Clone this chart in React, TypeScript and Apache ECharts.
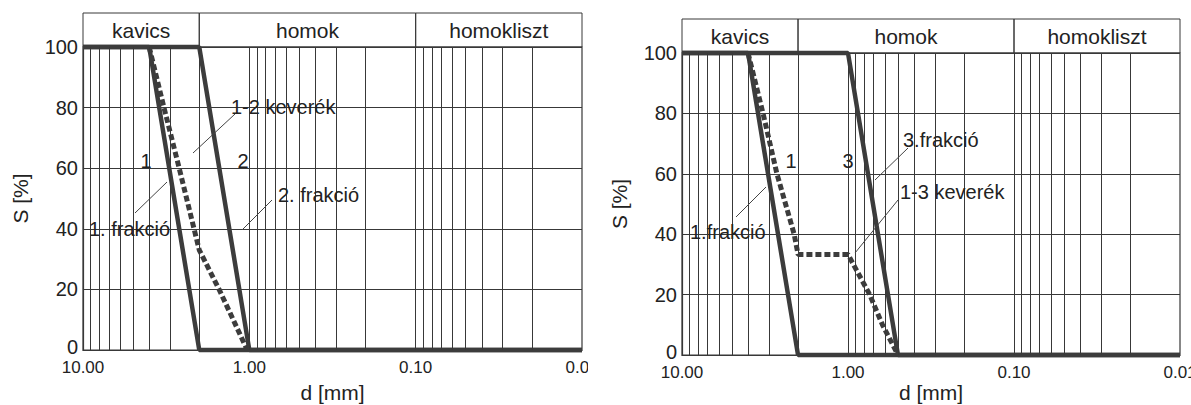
import React, { useEffect, useRef } from "react";
import * as echarts from "echarts";

const FONT = '"Liberation Sans", Arial, Helvetica, sans-serif';
const INK = "#222222";
const CURVE = "#3c3c3c";
const GRID = "#383838";

// axis definitions
const sMin = 0;
const sMax = 100;
const sStep = 20;
const dMin = 0.01;
const dMax = 10;
const gridDecades = [0.01, 0.1, 1];
const gridMantissas = [2, 3, 4, 5, 6, 7, 8, 9, 10];

// soil zones (header)
const zoneBounds = [10, 2, 0.1, 0.01];
const zoneNames = ["kavics", "homok", "homokliszt"];

// fractions (d [mm], S [%])
const frac1D = [10, 4, 2, 0.01];
const frac1S = [100, 100, 0, 0];
const frac2D = [10, 2, 1, 0.01];
const frac2S = [100, 100, 0, 0];
const frac3D = [10, 1, 0.5, 0.01];
const frac3S = [100, 100, 0, 0];

// mixtures
const mix12D = [4, 3.26, 2.64, 2.15, 2.0, 1.52, 1.25, 1.03];
const mix12S = [100, 80, 60, 40, 33, 20, 10, 0];
const mix13D = [4, 3.25, 2.68, 2.11, 2.0, 1.0, 0.74, 0.62, 0.5];
const mix13S = [100, 80, 60, 40, 33.3, 33.3, 20, 10, 0];

const zip = (d: number[], s: number[]) => d.map((v, i) => [v, s[i]]);

type Note = { text: string; x: number; y: number; align?: string };
type Leader = number[];

const leftNotes: Note[] = [
  { text: "1-2 keverék", x: 231, y: 107 },
  { text: "1", x: 146, y: 161, align: "center" },
  { text: "2", x: 243, y: 161, align: "center" },
  { text: "2. frakció", x: 278, y: 195 },
  { text: "1. frakció", x: 89, y: 229 },
];
const leftLeaders: Leader[] = [
  [193, 153, 235, 114],
  [242, 230, 272, 200],
  [135, 213, 167, 182],
];
const rightNotes: Note[] = [
  { text: "3.frakció", x: 303, y: 140 },
  { text: "3", x: 248, y: 161, align: "center" },
  { text: "1", x: 191, y: 161, align: "center" },
  { text: "1-3 keverék", x: 300, y: 192 },
  { text: "1.frakció", x: 90, y: 232 },
];
const rightLeaders: Leader[] = [
  [275, 180, 308, 148],
  [255, 253, 298, 200],
  [136, 217, 166, 187],
];

type Curve = { d: number[]; s: number[]; dashed?: boolean };

function makeOption(cfg: {
  gridLeft: number;
  gridTop: number;
  gridW: number;
  gridH: number;
  headTop: number;
  xNameGap: number;
  curves: Curve[];
  notes: Note[];
  leaders: Leader[];
}) {
  const gridValues: number[] = [];
  gridDecades.forEach((dec) =>
    gridMantissas.forEach((m) => {
      const v = +(dec * m).toPrecision(6);
      if (v > dMin && v < dMax) gridValues.push(v);
    })
  );

  const xBase = {
    type: "log",
    logBase: 10,
    min: dMin,
    max: dMax,
    inverse: true,
  };

  const series: any[] = [
    {
      type: "line",
      xAxisIndex: 0,
      yAxisIndex: 0,
      data: [],
      silent: true,
      markLine: {
        silent: true,
        symbol: ["none", "none"],
        label: { show: false },
        lineStyle: { color: GRID, width: 1, type: "solid" },
        data: gridValues.map((v) => ({ xAxis: v })),
      },
    },
    {
      type: "line",
      xAxisIndex: 1,
      yAxisIndex: 1,
      data: [],
      silent: true,
      markArea: {
        silent: true,
        itemStyle: {
          color: "rgba(255,255,255,0)",
          borderColor: GRID,
          borderWidth: 1,
        },
        label: {
          show: true,
          position: "inside",
          fontSize: 21,
          fontFamily: FONT,
          color: INK,
        },
        data: zoneNames.map((name, i) => [
          { name, xAxis: zoneBounds[i] },
          { xAxis: zoneBounds[i + 1] },
        ]),
      },
    },
  ];

  cfg.curves.forEach((c) => {
    series.push({
      type: "line",
      xAxisIndex: 0,
      yAxisIndex: 0,
      data: zip(c.d, c.s),
      showSymbol: false,
      symbol: "none",
      clip: false,
      silent: true,
      z: c.dashed ? 4 : 3,
      lineStyle: {
        color: CURVE,
        width: c.dashed ? 5 : 4.5,
        type: c.dashed ? [6, 3] : "solid",
      },
    });
  });

  const graphic: any[] = [];
  cfg.leaders.forEach((l) =>
    graphic.push({
      type: "line",
      shape: { x1: l[0], y1: l[1], x2: l[2], y2: l[3] },
      style: { stroke: "#444", lineWidth: 1 },
      z: 10,
    })
  );
  cfg.notes.forEach((n) =>
    graphic.push({
      type: "text",
      x: n.x,
      y: n.y,
      z: 11,
      style: {
        text: n.text,
        fill: INK,
        font: `20px ${FONT}`,
        align: n.align || "left",
        verticalAlign: "middle",
      },
    })
  );

  return {
    animation: false,
    backgroundColor: "#ffffff",
    grid: [
      {
        left: cfg.gridLeft,
        top: cfg.gridTop,
        width: cfg.gridW,
        height: cfg.gridH,
        show: true,
        borderColor: GRID,
        borderWidth: 1.2,
        containLabel: false,
        outerBoundsMode: "none",
      },
      {
        left: cfg.gridLeft,
        top: cfg.headTop,
        width: cfg.gridW,
        height: cfg.gridTop - cfg.headTop,
        show: false,
        containLabel: false,
        outerBoundsMode: "none",
      },
    ],
    xAxis: [
      {
        ...xBase,
        gridIndex: 0,
        name: "d [mm]",
        nameLocation: "middle",
        nameGap: cfg.xNameGap,
        nameMoveOverlap: false,
        nameTextStyle: { fontSize: 21, fontFamily: FONT, color: INK },
        axisLine: { show: true, lineStyle: { color: GRID, width: 1.2 } },
        axisTick: { show: false },
        splitLine: { show: false },
        minorTick: { show: false },
        axisLabel: {
          fontSize: 17,
          fontFamily: FONT,
          color: INK,
          margin: 10,
          lineHeight: 15,
          showMinLabel: true,
          showMaxLabel: true,
          hideOverlap: false,
          formatter: (v: number) => Number(v).toFixed(2),
        },
      },
      {
        ...xBase,
        gridIndex: 1,
        show: false,
      },
    ],
    yAxis: [
      {
        type: "value",
        gridIndex: 0,
        min: sMin,
        max: sMax,
        interval: sStep,
        name: "S [%]",
        nameLocation: "middle",
        nameGap: 52,
        nameMoveOverlap: false,
        nameTextStyle: { fontSize: 21, fontFamily: FONT, color: INK },
        axisLine: { show: true, lineStyle: { color: GRID, width: 1.2 } },
        axisTick: { show: false },
        splitLine: { show: true, lineStyle: { color: GRID, width: 1 } },
        axisLabel: {
          fontSize: 20,
          fontFamily: FONT,
          color: INK,
          margin: 5,
          lineHeight: 15,
          formatter: (v: number) => (v === sMin ? `{low|${v}}` : `${v}`),
          rich: {
            low: {
              fontSize: 20,
              fontFamily: FONT,
              color: INK,
              lineHeight: 15,
              padding: [0, 0, 6, 0],
            },
          },
        },
      },
      {
        type: "value",
        gridIndex: 1,
        min: 0,
        max: 1,
        show: false,
      },
    ],
    series,
    graphic,
  };
}

function Chart(props: { style: React.CSSProperties; option: any }) {
  const ref = useRef<HTMLDivElement>(null);
  useEffect(() => {
    if (!ref.current) return;
    const chart = echarts.init(ref.current, null, { renderer: "svg" });
    chart.setOption(props.option);
    return () => chart.dispose();
  }, []);
  return <div ref={ref} style={props.style} />;
}

export default function App() {
  const leftOption = makeOption({
    gridLeft: 83,
    gridTop: 47,
    gridW: 499,
    gridH: 303,
    headTop: 13,
    xNameGap: 32,
    curves: [
      { d: frac1D, s: frac1S },
      { d: frac2D, s: frac2S },
      { d: mix12D, s: mix12S, dashed: true },
    ],
    notes: leftNotes,
    leaders: leftLeaders,
  });
  const rightOption = makeOption({
    gridLeft: 82,
    gridTop: 53,
    gridW: 498,
    gridH: 302,
    headTop: 19,
    xNameGap: 27,
    curves: [
      { d: frac1D, s: frac1S },
      { d: frac3D, s: frac3S },
      { d: mix13D, s: mix13S, dashed: true },
    ],
    notes: rightNotes,
    leaders: rightLeaders,
  });
  return (
    <div
      style={{
        position: "absolute",
        left: 0,
        top: 0,
        width: 1191,
        height: 405,
        background: "#fff",
        overflow: "hidden",
      }}
    >
      <Chart
        option={leftOption}
        style={{ position: "absolute", left: 0, top: 0, width: 588, height: 405, overflow: "hidden" }}
      />
      <Chart
        option={rightOption}
        style={{ position: "absolute", left: 600, top: 0, width: 591, height: 405, overflow: "hidden" }}
      />
    </div>
  );
}
